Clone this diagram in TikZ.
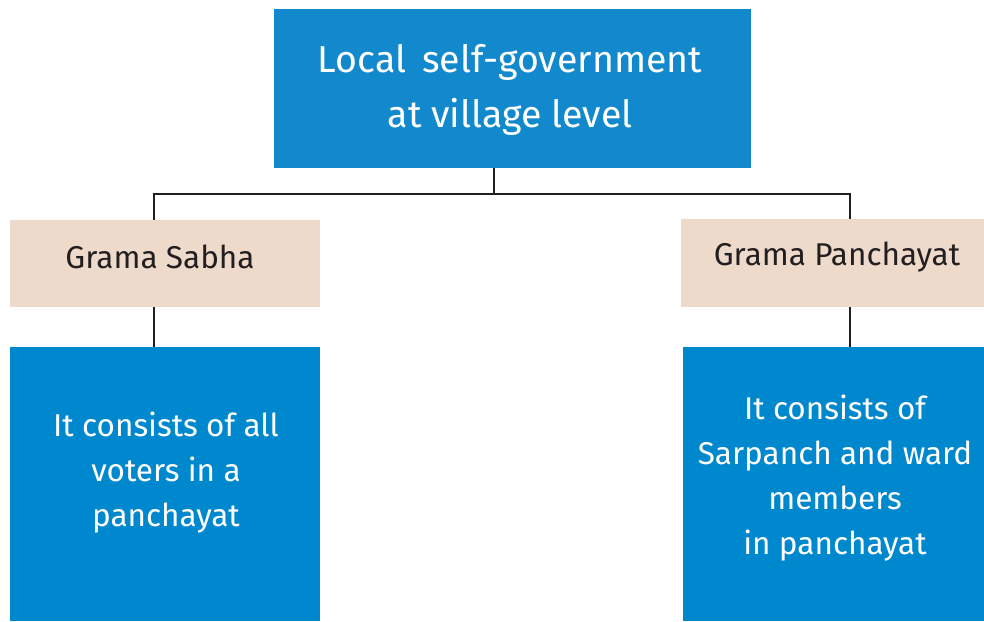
\documentclass[tikz,border=0pt]{standalone}
\usepackage{fontspec}
\setmainfont{Fira Sans}
\definecolor{topblue}{HTML}{1289CC}
\definecolor{boxblue}{HTML}{0088CF}
\definecolor{tan}{HTML}{EDDACA}
\definecolor{linec}{HTML}{231F20}
\tikzset{
  bluebox/.style={fill=boxblue, text=white, align=center, inner sep=0pt},
  tanbox/.style={fill=tan, text=linec, align=center, inner sep=0pt},
  conn/.style={draw=linec, line width=2.8pt},
}
\begin{document}
\begin{tikzpicture}[x=1pt,y=-1pt]
\useasboundingbox (0,0) rectangle (984,621);
\node[bluebox, fill=topblue, minimum width=477pt, minimum height=159pt] (top) at (512.5,88.5) {};
\node[text=white, align=center, font=\fontsize{37.5}{55}\selectfont] (toptxt) at (510,89.5) {Local\, self-government\\at village level};
\node[tanbox, minimum width=310pt, minimum height=87pt] (gs) at (165,263.5) {};
\node[text=linec, font=\fontsize{31.5}{34}\selectfont] (gstxt) at (160,257) {Grama Sabha};
\node[tanbox, minimum width=303pt, minimum height=88pt] (gp) at (832.5,263) {};
\node[text=linec, font=\fontsize{31.5}{34}\selectfont] (gptxt) at (837,257) {Grama Panchayat};
\node[bluebox, minimum width=310pt, minimum height=274pt] (gsd) at (165,484) {};
\node[text=white, align=center, font=\fontsize{31.5}{45}\selectfont] (gsdtxt) at (166,473) {It consists of all\\voters in a\\panchayat};
\node[bluebox, minimum width=301pt, minimum height=274pt] (gpd) at (833.5,484) {};
\node[text=white, align=center, font=\fontsize{31.5}{45}\selectfont] (gpdtxt) at (835,478) {It consists of\\Sarpanch and ward\\members\\in panchayat};
\coordinate (j) at (494,194);
\coordinate (lt) at (154,194);
\coordinate (rt) at (850,194);
\draw[conn] (top.south -| j) -- (j);
\draw[conn] (gs.north -| lt) -- (lt) -- (rt) -- (gp.north -| rt);
\draw[conn] (gs.south -| lt) -- (gsd.north -| lt);
\draw[conn] (gp.south -| rt) -- (gpd.north -| rt);
\end{tikzpicture}
\end{document}
